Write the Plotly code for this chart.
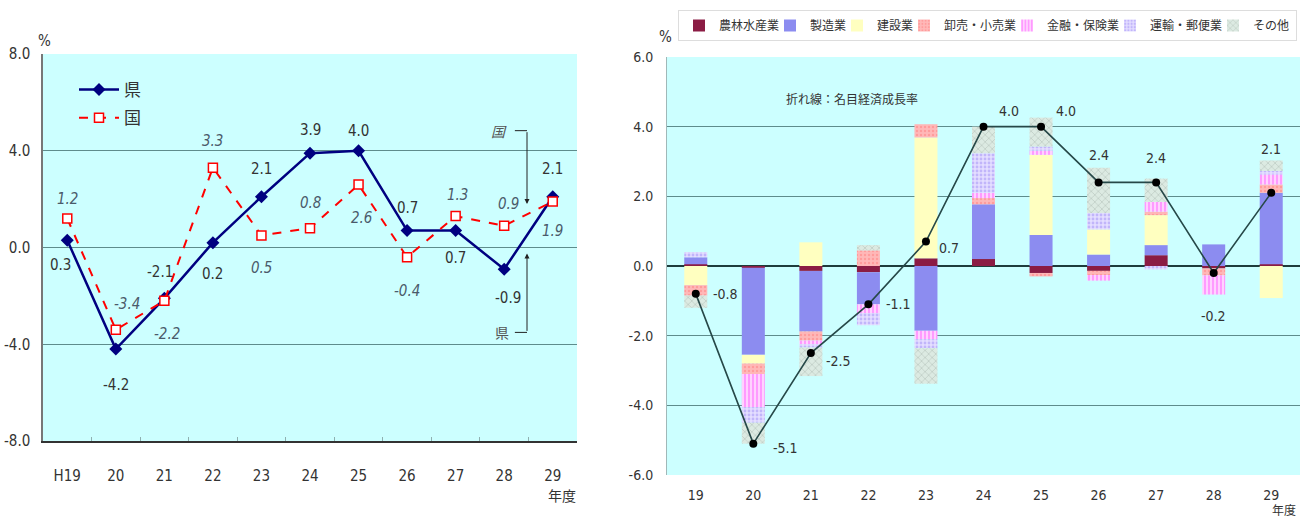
import plotly.graph_objects as go

# ---------------- data ----------------
left_years = ["H19", "20", "21", "22", "23", "24", "25", "26", "27", "28", "29"]
ken_growth = [0.3, -4.2, -2.1, 0.2, 2.1, 3.9, 4.0, 0.7, 0.7, -0.9, 2.1]
kuni_growth = [1.2, -3.4, -2.2, 3.3, 0.5, 0.8, 2.6, -0.4, 1.3, 0.9, 1.9]

right_years = ["19", "20", "21", "22", "23", "24", "25", "26", "27", "28", "29"]
nominal_growth = [-0.8, -5.1, -2.5, -1.1, 0.7, 4.0, 4.0, 2.4, 2.4, -0.2, 2.1]

agri = [0.05, -0.05, -0.14, -0.18, 0.22, 0.20, -0.20, -0.14, 0.31, -0.07, 0.05]
manuf = [0.20, -2.50, -1.74, -0.92, -1.86, 1.57, 0.89, 0.33, 0.29, 0.62, 2.05]
constr = [-0.55, -0.25, 0.68, 0.00, 3.47, 0.00, 2.30, 0.72, 0.86, 0.00, -0.92]
trade = [-0.30, -0.30, -0.26, 0.45, 0.38, 0.18, -0.10, -0.12, 0.10, -0.20, 0.24]
finance = [0.00, -0.95, -0.10, -0.25, -0.24, 0.15, 0.12, -0.16, 0.28, -0.55, 0.29]
transport = [0.15, -0.45, -0.10, -0.35, -0.26, 1.14, 0.12, 0.47, -0.10, 0.00, 0.10]
other = [-0.35, -0.60, -0.82, 0.15, -1.02, 0.76, 0.83, 1.30, 0.67, 0.00, 0.30]

industry_names = ["農林水産業", "製造業", "建設業", "卸売・小売業", "金融・保険業", "運輸・郵便業", "その他"]
industry_values = [agri, manuf, constr, trade, finance, transport, other]

left_ticks = [-8, -4, 0, 4, 8]
left_ticktext = ["-8.0", "-4.0", "0.0", "4.0", "8.0"]
right_ticks = [-6, -4, -2, 0, 2, 4, 6]
right_ticktext = ["-6.0", "-4.0", "-2.0", "0.0", "2.0", "4.0", "6.0"]

# ---------------- styles ----------------
W, H = 1312, 529
NARROW = "Liberation Sans Narrow, DejaVu Sans Condensed, Noto Sans CJK JP, sans-serif"
CJK = "Noto Sans CJK JP, sans-serif"
BG = "#CCFFFF"
GRID = "#5E8C8C"
TXT = "#333333"
LEGEND_FONT = 12

industry_styles = [
    dict(color="#8B1C44", pattern=dict(shape="")),
    dict(color="#8C8CF0", pattern=dict(shape="")),
    dict(color="#FFFFC0", pattern=dict(shape="")),
    dict(color="#FFB4B4", pattern=dict(shape=".", fgcolor="#FF7F7F", bgcolor="#FFB8B8", size=4, solidity=0.3)),
    dict(color="#FFC8FF", pattern=dict(shape="|", fgcolor="#FF33FF", bgcolor="#FFD2FF", size=4, solidity=0.35)),
    dict(color="#D8D0FF", pattern=dict(shape=".", fgcolor="#9D8CF5", bgcolor="#E4DEFF", size=4, solidity=0.4)),
    dict(color="#D4E4DC", pattern=dict(shape="x", fgcolor="#9AA8A0", bgcolor="#DCEAE2", size=5, solidity=0.25)),
]


def px_x(x):
    return x / W


def px_y(y):
    return 1 - y / H


fig = go.Figure()

# ---------------- left: growth rate lines ----------------
fig.add_trace(go.Scatter(
    x=left_years, y=ken_growth, name="県", mode="lines+markers",
    line=dict(color="#000080", width=2.5),
    marker=dict(symbol="diamond", size=10, color="#000080"),
    xaxis="x", yaxis="y", legend="legend", legendgroup="ken",
))
fig.add_trace(go.Scatter(
    x=left_years, y=kuni_growth, name="国", mode="lines+markers",
    line=dict(color="#FF0000", width=2, dash="dash"),
    marker=dict(symbol="square", size=9, color="white", line=dict(color="#FF0000", width=1.5)),
    xaxis="x", yaxis="y", legend="legend", legendgroup="kuni",
))

# ---------------- right: contribution bars + line ----------------
last = len(industry_names) - 1
for k, (name, vals, st) in enumerate(zip(industry_names, industry_values, industry_styles)):
    # legend entries trimmed so they sit close together; the last one keeps its full width
    text_w = len(name) * LEGEND_FONT
    fig.add_trace(go.Bar(
        x=right_years, y=vals, name=name,
        marker=dict(color=st["color"], pattern=st["pattern"], line=dict(width=0)),
        xaxis="x2", yaxis="y2", legend="legend2",
        legendwidth=text_w + 2 if k == last else text_w - 14,
    ))

fig.add_trace(go.Scatter(
    x=right_years, y=nominal_growth, mode="lines+markers", showlegend=False,
    line=dict(color="#264848", width=1.6),
    marker=dict(symbol="circle", size=8, color="#000000"),
    xaxis="x2", yaxis="y2",
))


def fmt(v):
    return f"{v:.1f}"


annotations = []

# value labels, left (category index used as x)
ken_shift = [(-7, -25), (0, -36), (-4, 26), (0, -31), (0, 28), (0, 23), (0, 20), (0, 23), (0, -27), (4, -29), (0, 28)]
kuni_shift = [(0, 19), (11, 26), (3, -33), (0, 27), (0, -33), (0, 25), (3, -33), (0, -34), (2, 21), (4, 22), (0, -29)]
for i, (v, (dx, dy)) in enumerate(zip(ken_growth, ken_shift)):
    annotations.append(dict(x=i, y=v, xref="x", yref="y", text=fmt(v), showarrow=False,
                            xshift=dx, yshift=dy, font=dict(family=NARROW, size=15, color=TXT)))
for i, (v, (dx, dy)) in enumerate(zip(kuni_growth, kuni_shift)):
    annotations.append(dict(x=i, y=v, xref="x", yref="y", text=f"<i>{fmt(v)}</i>", showarrow=False,
                            xshift=dx, yshift=dy, font=dict(family=NARROW, size=15, color="#4A5A6A")))

# value labels, right
nominal_shift = [(30, 0), (32, -4), (28, -8), (30, 0), (23, -6), (25, 16), (25, 16), (0, 27), (0, 24), (0, -43), (0, 44)]
for i, (v, (dx, dy)) in enumerate(zip(nominal_growth, nominal_shift)):
    annotations.append(dict(x=i, y=v, xref="x2", yref="y2", text=fmt(v), showarrow=False,
                            xshift=dx, yshift=dy, font=dict(family=NARROW, size=14, color=TXT)))

# pointer callouts for the two series, left chart
annotations += [
    dict(x=8.9, y=4.83, xref="x", yref="y", text="<i>国</i>", showarrow=False,
         font=dict(family=CJK, size=14, color="#555555")),
    dict(x=9.47, y=1.8, ax=9.47, ay=4.83, xref="x", yref="y", axref="x", ayref="y",
         text="", showarrow=True, arrowhead=2, arrowsize=1, arrowwidth=1, arrowcolor="#222222"),
    dict(x=8.95, y=-3.51, xref="x", yref="y", text="県", showarrow=False,
         font=dict(family=CJK, size=14, color="#555555")),
    dict(x=9.47, y=-0.25, ax=9.47, ay=-3.51, xref="x", yref="y", axref="x", ayref="y",
         text="", showarrow=True, arrowhead=2, arrowsize=1, arrowwidth=1, arrowcolor="#222222"),
]

# axis captions
annotations += [
    dict(x=px_x(36), y=px_y(30), xref="paper", yref="paper", text="%", showarrow=False,
         font=dict(family=NARROW, size=15, color=TXT)),
    dict(x=px_x(562), y=px_y(507), xref="paper", yref="paper", text="年度", showarrow=False,
         font=dict(family=CJK, size=14, color=TXT)),
    dict(x=px_x(666), y=px_y(26), xref="paper", yref="paper", text="%", showarrow=False,
         font=dict(family=NARROW, size=15, color=TXT)),
    dict(x=px_x(1298), y=px_y(520), xref="paper", yref="paper", text="年度", showarrow=False,
         font=dict(family=CJK, size=12, color=TXT)),
    dict(x=px_x(852), y=px_y(88), xref="paper", yref="paper", text="折れ線：名目経済成長率", showarrow=False,
         font=dict(family=CJK, size=12, color=TXT)),
]

shapes = [
    dict(type="line", xref="x", yref="y", x0=9.22, x1=9.47, y0=4.83, y1=4.83,
         line=dict(color="#222222", width=1)),
    dict(type="line", xref="x", yref="y", x0=9.22, x1=9.47, y0=-3.51, y1=-3.51,
         line=dict(color="#222222", width=1)),
]

fig.update_layout(
    width=W, height=H,
    margin=dict(l=0, r=0, t=0, b=0, autoexpand=False),
    paper_bgcolor="white", plot_bgcolor=BG,
    barmode="relative", bargap=0.6,
    font=dict(family=NARROW, size=15, color=TXT),
    xaxis=dict(domain=[px_x(43), px_x(577)], type="category", range=[-0.5, 10.5], anchor="y",
               showgrid=False, showline=True, linecolor="#333333", linewidth=2,
               ticks="inside", tickson="boundaries", ticklen=4, tickcolor="#8FB0B0",
               ticklabelstandoff=20, tickfont=dict(family=NARROW, size=15, color=TXT), fixedrange=True),
    yaxis=dict(domain=[px_y(441), px_y(54)], range=[-8, 8], anchor="x",
               tickvals=left_ticks, ticktext=left_ticktext, showgrid=True, gridcolor=GRID, gridwidth=1,
               zeroline=False, showline=True, linecolor="#777777", linewidth=1.5,
               ticklabelstandoff=8, tickfont=dict(family=NARROW, size=15, color=TXT), fixedrange=True),
    xaxis2=dict(domain=[px_x(667), px_x(1300)], type="category", range=[-0.5, 10.5], anchor="y2",
                showgrid=False, showline=False, ticks="", ticklabelstandoff=10,
                tickfont=dict(family=NARROW, size=14, color=TXT), fixedrange=True),
    yaxis2=dict(domain=[px_y(475), px_y(57)], range=[-6, 6], anchor="x2",
                tickvals=right_ticks, ticktext=right_ticktext, showgrid=True, gridcolor=GRID, gridwidth=1,
                zeroline=True, zerolinecolor="#1E3C3C", zerolinewidth=1.5,
                showline=True, linecolor="#A0B8B8", linewidth=1,
                ticklabelstandoff=10, tickfont=dict(family=NARROW, size=14, color=TXT), fixedrange=True),
    legend=dict(x=px_x(74), y=px_y(72), xanchor="left", yanchor="top", orientation="v",
                bgcolor="rgba(0,0,0,0)", font=dict(family=CJK, size=17, color=TXT),
                tracegroupgap=3, itemwidth=40),
    legend2=dict(x=px_x(678), y=px_y(10), xanchor="left", yanchor="top", orientation="h",
                 bgcolor="white", bordercolor="#DDDDDD", borderwidth=1,
                 font=dict(family=CJK, size=LEGEND_FONT, color=TXT), itemwidth=30),
    annotations=annotations,
    shapes=shapes,
)

fig.write_html("out.html")
